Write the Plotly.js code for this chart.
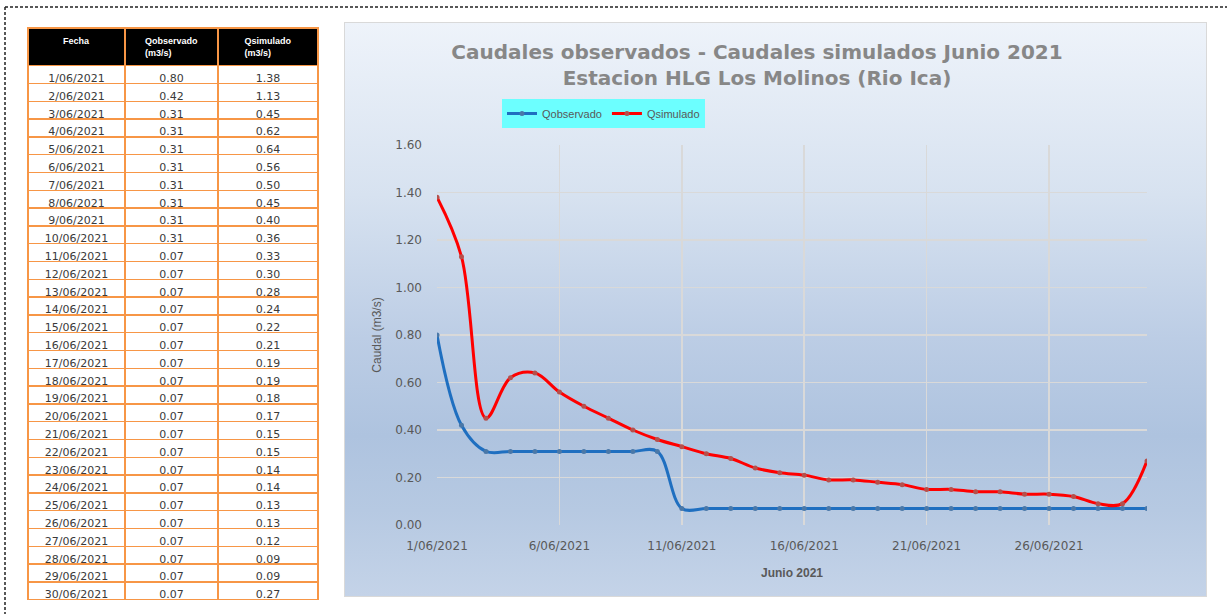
<!DOCTYPE html>
<html>
<head>
<meta charset="utf-8">
<script src="https://cdn.plot.ly/plotly-3.0.1.min.js"></script>
<style>
  html, body { margin: 0; padding: 0; background: #ffffff; }
  #wrap { position: relative; width: 1227px; height: 614px; overflow: hidden; }
  #chartbg { position: absolute; left: 344px; top: 22px; width: 861px; height: 573px;
    border: 1px solid #d9d9d9;
    background: linear-gradient(to bottom, #eef3fa 0%, #d7e2f0 30%, #bccde5 55%, #aec3df 72%, #b6c9e2 85%, #c4d3e8 100%); }
  #plot { position: absolute; left: 0; top: 0; width: 1227px; height: 614px; }
</style>
</head>
<body>
<div id="wrap">
  <div id="chartbg"></div>
  <div id="plot"></div>
</div>
<script>
// ---- data ----
const dates = ["2021-06-01","2021-06-02","2021-06-03","2021-06-04","2021-06-05","2021-06-06","2021-06-07","2021-06-08","2021-06-09","2021-06-10",
               "2021-06-11","2021-06-12","2021-06-13","2021-06-14","2021-06-15","2021-06-16","2021-06-17","2021-06-18","2021-06-19","2021-06-20",
               "2021-06-21","2021-06-22","2021-06-23","2021-06-24","2021-06-25","2021-06-26","2021-06-27","2021-06-28","2021-06-29","2021-06-30"];
const dateLabels = ["1/06/2021","2/06/2021","3/06/2021","4/06/2021","5/06/2021","6/06/2021","7/06/2021","8/06/2021","9/06/2021","10/06/2021",
                    "11/06/2021","12/06/2021","13/06/2021","14/06/2021","15/06/2021","16/06/2021","17/06/2021","18/06/2021","19/06/2021","20/06/2021",
                    "21/06/2021","22/06/2021","23/06/2021","24/06/2021","25/06/2021","26/06/2021","27/06/2021","28/06/2021","29/06/2021","30/06/2021"];
const qObservado = [0.80,0.42,0.31,0.31,0.31,0.31,0.31,0.31,0.31,0.31,
                    0.07,0.07,0.07,0.07,0.07,0.07,0.07,0.07,0.07,0.07,
                    0.07,0.07,0.07,0.07,0.07,0.07,0.07,0.07,0.07,0.07];
const qSimulado = [1.38,1.13,0.45,0.62,0.64,0.56,0.50,0.45,0.40,0.36,
                   0.33,0.30,0.28,0.24,0.22,0.21,0.19,0.19,0.18,0.17,
                   0.15,0.15,0.14,0.14,0.13,0.13,0.12,0.09,0.09,0.27];
const headers = ["<b>Fecha</b>", "<b>Qobservado<br>(m3/s)</b>", "<b>Qsimulado<br>(m3/s)</b>"];
const titleText = "<b>Caudales observados - Caudales simulados Junio 2021<br>Estacion HLG Los Molinos (Rio Ica)</b>";
const yTitle = "Caudal (m3/s)";
const xTitle = "<b>Junio 2021</b>";

// ---- figure ----
const W = 1227, H = 614;
const px = v => v / W;
const py = v => 1 - v / H;

const tableTrace = {
  type: "table",
  domain: { x: [px(28), px(318)], y: [py(602), py(28)] },
  columnwidth: [97, 93, 100],
  header: {
    values: headers,
    align: "center",
    height: 34,
    fill: { color: "#000000" },
    line: { color: "#f79646", width: 1.5 },
    font: { family: "Liberation Sans, Arial, sans-serif", size: 9, color: "#ffffff" }
  },
  cells: {
    values: [dateLabels, qObservado.map(v => v.toFixed(2)), qSimulado.map(v => v.toFixed(2))],
    align: "center",
    height: 17.8,
    fill: { color: "#ffffff" },
    line: { color: "#f79646", width: 1.5 },
    font: { family: "DejaVu Sans, sans-serif", size: 11, color: "#3a3a3a" }
  }
};

const obsTrace = {
  type: "scatter", mode: "lines+markers", name: "Qobservado",
  x: dates, y: qObservado,
  line: { color: "#1f6fc0", width: 3, shape: "spline", smoothing: 1 },
  marker: { color: "#4a78a8", size: 5 }
};
const simTrace = {
  type: "scatter", mode: "lines+markers", name: "Qsimulado",
  x: dates, y: qSimulado,
  line: { color: "#ff0000", width: 3, shape: "spline", smoothing: 1 },
  marker: { color: "#b5504c", size: 5 }
};

const layout = {
  width: W, height: H,
  margin: { l: 0, r: 0, t: 0, b: 0 },
  paper_bgcolor: "rgba(0,0,0,0)",
  plot_bgcolor: "rgba(0,0,0,0)",
  showlegend: true,
  title: {
    text: titleText,
    x: px(757), xanchor: "center", xref: "paper",
    y: py(59), yanchor: "middle", yref: "paper",
    font: { family: "DejaVu Sans, sans-serif", size: 20, color: "#878787" }
  },
  legend: {
    orientation: "h",
    x: px(502), xanchor: "left", y: py(99), yanchor: "top",
    bgcolor: "#6cffff",
    font: { family: "Liberation Sans, Arial, sans-serif", size: 11, color: "#595959" },
    itemwidth: 30
  },
  xaxis: {
    type: "date",
    domain: [px(437), px(1147)],
    range: ["2021-06-01", "2021-06-30"],
    tick0: "2021-06-01",
    dtick: 5 * 86400000,
    tickformat: "%-d/%m/%Y",
    showgrid: true, gridcolor: "#d9d9d9", gridwidth: 1.5,
    zeroline: false, showline: false, ticks: "",
    ticklabelstandoff: 12,
    tickfont: { family: "DejaVu Sans, sans-serif", size: 12, color: "#595959" },
    title: { text: xTitle, standoff: 16, font: { family: "Liberation Sans, Arial, sans-serif", size: 12, color: "#595959" } },
    automargin: false
  },
  yaxis: {
    domain: [py(525), py(145)],
    range: [0, 1.6],
    dtick: 0.2,
    tickformat: ".2f",
    showgrid: true, gridcolor: "#d9d9d9", gridwidth: 1.5,
    zeroline: false, showline: false, ticks: "",
    ticklabelstandoff: 14,
    tickfont: { family: "DejaVu Sans, sans-serif", size: 12, color: "#595959" },
    title: { text: yTitle, standoff: 11, font: { family: "Liberation Sans, Arial, sans-serif", size: 12, color: "#595959" } },
    automargin: false
  },
  shapes: [
    { type: "line", xref: "paper", yref: "paper", x0: px(5), x1: 1, y0: py(7), y1: py(7),
      line: { color: "#222222", width: 1.5, dash: "3px,2px" } },
    { type: "line", xref: "paper", yref: "paper", x0: px(5), x1: px(5), y0: py(7), y1: 0,
      line: { color: "#222222", width: 1.5, dash: "3px,2px" } }
  ]
};

Plotly.newPlot("plot", [tableTrace, obsTrace, simTrace], layout, { displayModeBar: false, staticPlot: true });
</script>
</body>
</html>
